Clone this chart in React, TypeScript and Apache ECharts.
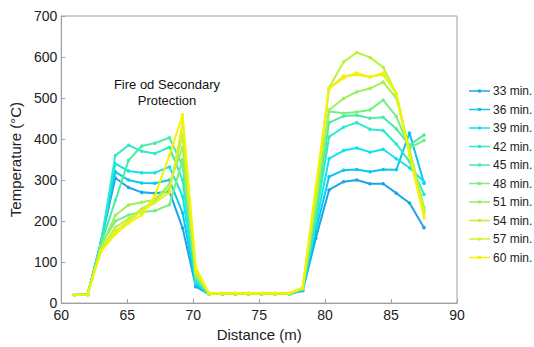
import React, { useEffect, useRef } from "react";
import * as echarts from "echarts";

const distances = [61, 62, 63, 64.1, 65.1, 66.1, 67.1, 68.2, 69.2, 70.2, 71.2, 72.2, 73.2, 74.2, 75.2, 76.2, 77.3, 78.3, 79.3, 80.3, 81.4, 82.4, 83.4, 84.4, 85.4, 86.4, 87.5];

const seriesNames = ["33 min.", "36 min.", "39 min.", "42 min.", "45 min.", "48 min.", "51 min.", "54 min.", "57 min.", "60 min."];

const t33 = [20, 21, 148, 305, 282, 270, 268, 272, 183, 40, 22, 22, 22, 22, 22, 22, 22, 30, 158, 276, 296, 300, 291, 291, 268, 244, 184];
const t36 = [20, 21, 147, 320, 300, 293, 292, 300, 220, 45, 22, 22, 22, 22, 22, 22, 22, 32, 175, 308, 324, 326, 320, 326, 325, 415, 292];
const t39 = [20, 21, 146, 340, 322, 318, 318, 332, 260, 50, 22, 22, 22, 22, 22, 22, 22, 33, 190, 352, 372, 378, 368, 375, 352, 330, 296];
const t42 = [20, 21, 145, 360, 385, 370, 365, 380, 300, 55, 22, 22, 22, 22, 22, 22, 22, 34, 205, 405, 429, 440, 424, 421, 388, 345, 265];
const t45 = [20, 21, 143, 250, 348, 383, 390, 403, 335, 60, 23, 23, 23, 23, 23, 23, 23, 35, 220, 440, 456, 458, 451, 453, 425, 385, 410];
const t48 = [20, 21, 140, 200, 215, 222, 225, 240, 350, 65, 23, 23, 23, 23, 23, 23, 23, 35, 235, 467, 463, 466, 471, 495, 455, 378, 397];
const t51 = [20, 21, 135, 214, 239, 246, 252, 290, 380, 70, 23, 23, 23, 23, 23, 23, 23, 36, 250, 471, 499, 515, 523, 539, 500, 375, 233];
const t54 = [20, 21, 130, 185, 205, 230, 250, 280, 410, 75, 23, 23, 23, 23, 23, 23, 23, 37, 265, 525, 588, 611, 599, 575, 511, 370, 225];
const t57 = [20, 21, 127, 175, 200, 225, 245, 270, 440, 80, 24, 24, 24, 24, 24, 24, 24, 37, 275, 523, 553, 557, 552, 557, 511, 365, 218];
const t60 = [20, 21, 125, 168, 195, 215, 262, 360, 459, 87, 24, 24, 24, 24, 24, 24, 24, 38, 285, 523, 549, 561, 551, 561, 511, 360, 208];

const allTemps = [t33, t36, t39, t42, t45, t48, t51, t54, t57, t60];

const colors = ["#1aa6e6", "#0cc6f2", "#10e2ee", "#2aeccc", "#48eca4", "#74f07e", "#9cf05a", "#bef040", "#dcf026", "#f4f400"];

const xTicks = [60, 65, 70, 75, 80, 85, 90];
const yTicks = [0, 100, 200, 300, 400, 500, 600, 700];

const FONT = "'Liberation Sans', Arial, sans-serif";

export default function App() {
  const ref = useRef<HTMLDivElement>(null);
  useEffect(() => {
    if (!ref.current) return;
    const chart = echarts.init(ref.current, undefined, { renderer: "svg" });
    const series = allTemps.map((temps, si) => ({
      name: seriesNames[si],
      type: "line",
      data: temps.map((v, i) => [distances[i], v]),
      symbol: "circle",
      symbolSize: 3.5,
      showSymbol: true,
      lineStyle: { width: 2, color: colors[si] },
      itemStyle: { color: colors[si] },
      z: 2 + si,
    }));
    chart.setOption({
      animation: false,
      textStyle: { fontFamily: FONT },
      grid: {
        left: 57,
        right: 77,
        top: 16,
        bottom: 39,
        show: true,
        borderColor: "#a0a0a0",
        borderWidth: 1,
        backgroundColor: "transparent",
      },
      legend: {
        orient: "vertical",
        left: 464,
        top: 79,
        itemWidth: 21,
        itemHeight: 4,
        itemGap: 4.5,
        icon: "path://M0,2.3H21V3.7H0Z M9,1.5H12V4.5H9Z",
        data: seriesNames,
        textStyle: { fontSize: 12, color: "#222", fontFamily: FONT, lineHeight: 14, padding: [0, 0, 0, -2] },
      },
      xAxis: {
        type: "value",
        min: xTicks[0],
        max: xTicks[xTicks.length - 1],
        interval: 5,
        name: "Distance (m)",
        nameLocation: "middle",
        nameGap: 19,
        nameTextStyle: { fontSize: 15, color: "#222", fontFamily: FONT },
        axisLine: { show: true, lineStyle: { color: "#a0a0a0" } },
        axisTick: { show: true, inside: true, length: 4, lineStyle: { color: "#a0a0a0" } },
        axisLabel: { fontSize: 14, color: "#222", margin: 5, fontFamily: FONT },
        splitLine: { show: false },
      },
      yAxis: {
        type: "value",
        min: yTicks[0],
        max: yTicks[yTicks.length - 1],
        interval: 100,
        name: "Temperature (°C)",
        nameLocation: "middle",
        nameRotate: 90,
        nameGap: 33,
        nameTextStyle: { fontSize: 15, color: "#222", fontFamily: FONT },
        axisLine: { show: true, lineStyle: { color: "#a0a0a0" } },
        axisTick: { show: true, inside: true, length: 4, lineStyle: { color: "#a0a0a0" } },
        axisLabel: { fontSize: 14, color: "#222", margin: 4, fontFamily: FONT },
        splitLine: { show: false },
      },
      graphic: [
        {
          type: "text",
          left: 167 - 60,
          top: 76,
          style: {
            text: "Fire od Secondary\nProtection",
            font: `13px ${FONT}`,
            fill: "#111",
            textAlign: "center",
            lineHeight: 16,
            width: 120,
          },
        },
      ],
      series,
    });
    return () => chart.dispose();
  }, []);
  return <div ref={ref} style={{ width: 534, height: 347, position: "absolute", left: 0, top: 0 }} />;
}
